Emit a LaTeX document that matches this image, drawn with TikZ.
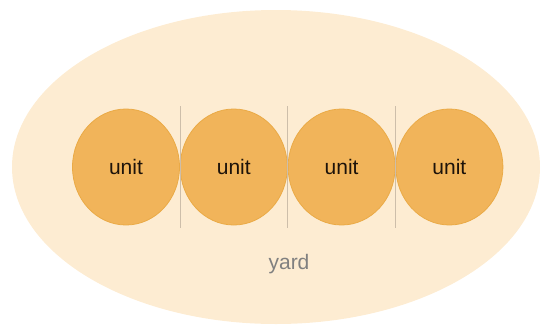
\documentclass[tikz,border=0pt]{standalone}
\usepackage{fontspec}
\setmainfont{Liberation Sans}
\usepackage{xcolor}
\usepackage{tikz}
\usetikzlibrary{shapes.geometric,positioning}

\definecolor{yardfill}{RGB}{253,236,210}
\definecolor{unitfill}{RGB}{241,180,90}
\definecolor{unitedge}{RGB}{234,170,70}
\definecolor{sepline}{RGB}{205,190,170}

\begin{document}
\begin{tikzpicture}[
    x=1pt, y=-1pt,
    node distance=0pt,
    yardbox/.style={ellipse, fill=yardfill, minimum width=528pt, minimum height=314pt, inner sep=0pt},
    unitbox/.style={ellipse, draw=unitedge, line width=0.8pt, fill=unitfill, minimum width=107pt, minimum height=116pt, inner sep=0pt, font=\fontsize{21}{24}\selectfont, text=black!85!brown},
    yardlabel/.style={font=\fontsize{21}{24}\selectfont, text=black!50, inner sep=1pt},
    sep/.style={draw=sepline, line width=0.6pt}
]
\useasboundingbox (0,0) rectangle (550,333);
\node[yardbox] (yard) at (276,167) {};
\node[unitbox] (u1) at (126,167) {unit};
\node[unitbox, right=of u1] (u2) {unit};
\node[unitbox, right=of u2] (u3) {unit};
\node[unitbox, right=of u3] (u4) {unit};
\node[yardlabel] (name) at (289,264) {yard};
% separators between units
\coordinate (top) at (0,106);
\coordinate (bot) at (0,228);
\draw[sep] (u1.east |- top) -- (u1.east |- bot);
\draw[sep] (u2.east |- top) -- (u2.east |- bot);
\draw[sep] (u3.east |- top) -- (u3.east |- bot);
\end{tikzpicture}
\end{document}
